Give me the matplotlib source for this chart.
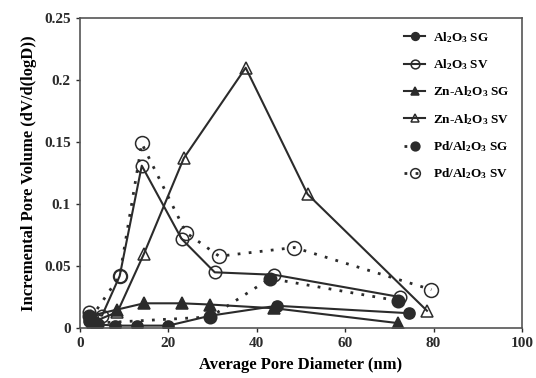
import matplotlib
matplotlib.use("Agg")
import matplotlib.pyplot as plt

plt.rcParams["font.family"] = "Liberation Serif"
plt.rcParams["font.weight"] = "bold"
plt.rcParams["mathtext.fontset"] = "custom"
plt.rcParams["mathtext.rm"] = "Liberation Serif:bold"
plt.rcParams["mathtext.it"] = "Liberation Serif:bold"
plt.rcParams["mathtext.bf"] = "Liberation Serif:bold"

# pore size distributions, diameter in nm vs dV/d(logD)
al_sg_x = [2, 4, 8, 13, 20, 29.5, 44.5, 74.5]
al_sg_y = [0.006, 0.003, 0.002, 0.002, 0.002, 0.010, 0.018, 0.012]

al_sv_x = [2, 5, 9, 14, 23, 30.5, 44, 72.5]
al_sv_y = [0.013, 0.010, 0.042, 0.131, 0.072, 0.045, 0.043, 0.025]

zn_sg_x = [2.5, 8.5, 14.5, 23, 29.5, 44, 72]
zn_sg_y = [0.010, 0.015, 0.020, 0.020, 0.019, 0.016, 0.004]

zn_sv_x = [3, 8.5, 14.5, 23.5, 37.5, 51.5, 78.5]
zn_sv_y = [0.005, 0.013, 0.060, 0.137, 0.210, 0.108, 0.014]

pd_sg_x = [2, 3.5, 29.5, 43, 72]
pd_sg_y = [0.010, 0.004, 0.009, 0.040, 0.022]

pd_sv_x = [2.5, 9, 14, 24, 31.5, 48.5, 79.5]
pd_sv_y = [0.008, 0.042, 0.149, 0.077, 0.058, 0.065, 0.031]

labels = [
    r"Al$_2$O$_3$ SG",
    r"Al$_2$O$_3$ SV",
    r"Zn-Al$_2$O$_3$ SG",
    r"Zn-Al$_2$O$_3$ SV",
    r"Pd/Al$_2$O$_3$ SG",
    r"Pd/Al$_2$O$_3$ SV",
]

ink = "#2b2b2b"
dots = (0, (1, 3))

fig = plt.figure(figsize=(5.36, 3.78), dpi=100)
ax = fig.add_axes([0.149, 0.132, 0.825, 0.82])

common = dict(color=ink, markeredgecolor=ink, markeredgewidth=1.1)
ax.plot(al_sg_x, al_sg_y, "-", marker="o", ms=8, lw=1.5, markerfacecolor=ink, label=labels[0], **common)
ax.plot(al_sv_x, al_sv_y, "-", marker="o", ms=9, lw=1.5, markerfacecolor="none", label=labels[1], **common)
ax.plot(zn_sg_x, zn_sg_y, "-", marker="^", ms=8, lw=1.5, markerfacecolor=ink, label=labels[2], **common)
ax.plot(zn_sv_x, zn_sv_y, "-", marker="^", ms=9, lw=1.5, markerfacecolor="none", label=labels[3], **common)
ax.plot(pd_sg_x, pd_sg_y, linestyle=dots, marker="o", ms=9, lw=2, markerfacecolor=ink, label=labels[4], **common)
ax.plot(pd_sv_x, pd_sv_y, linestyle=dots, marker="o", ms=10, lw=2, markerfacecolor="none", label=labels[5], **common)

ax.set_xlim(0, 100)
ax.set_ylim(0, 0.25)
ax.set_xticks([0, 20, 40, 60, 80, 100])
ax.set_yticks([0, 0.05, 0.1, 0.15, 0.2, 0.25])
ax.set_yticklabels(["0", "0.05", "0.1", "0.15", "0.2", "0.25"])
ax.tick_params(direction="out", length=3, width=1, labelsize=11, colors=ink)
for s in ax.spines.values():
    s.set_color("#555555")
    s.set_linewidth(1.2)

ax.set_xlabel("Average Pore Diameter (nm)", fontsize=12, fontweight="bold", labelpad=5)
ax.set_ylabel("Incremental Pore Volume (dV/d(logD))", fontsize=12, fontweight="bold", labelpad=5)

ax.legend(loc="upper right", frameon=False, fontsize=9.5, handlelength=1.6,
          markerscale=0.7, labelspacing=0.95, borderaxespad=0.5, handletextpad=0.6)

fig.savefig("out.png", dpi=100)
